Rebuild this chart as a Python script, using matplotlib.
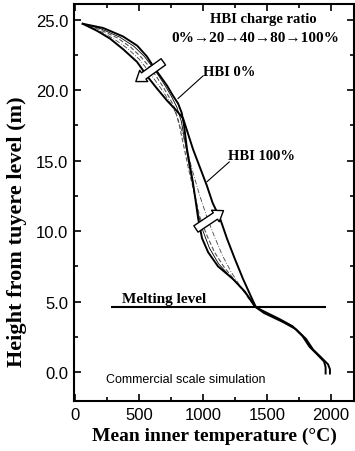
import matplotlib
matplotlib.use("Agg")
import matplotlib.pyplot as plt
from matplotlib.ticker import MultipleLocator, FormatStrFormatter

# mean inner temperature (C) vs height from tuyere level (m)
t_hbi0 = [60, 220, 375, 485, 560, 610, 665, 720, 765, 805, 833, 850, 875, 920, 940, 962, 992,
          1040, 1117, 1234, 1328, 1405, 1455, 1600, 1700, 1778, 1832, 1893, 1946, 1958, 1958]
h_hbi0 = [24.7, 24.4, 23.8, 23.15, 22.4, 21.7, 21.0, 20.3, 19.6, 19.05, 18.4, 17.6, 15.8, 13.5,
          12.3, 10.9, 9.5, 8.5, 7.5, 6.6, 5.7, 4.65, 4.4, 3.75, 3.25, 2.55, 1.8, 1.25, 0.75,
          0.35, -0.1]

t_hbi100 = [60, 172, 273, 375, 484, 562, 641, 719, 797, 844, 922, 1031, 1075, 1133, 1188,
            1250, 1313, 1383, 1414, 1475, 1625, 1725, 1805, 1860, 1922, 1977, 1992, 1992]
h_hbi100 = [24.7, 24.2, 23.65, 22.9, 22.0, 21.0, 20.1, 19.25, 18.5, 18.0, 15.8, 13.2, 12.0,
            10.9, 9.45, 8.0, 6.6, 5.2, 4.6, 4.2, 3.55, 3.05, 2.35, 1.6, 1.05, 0.55, 0.2, -0.1]

# intermediate charge ratios (20, 40, 80 %), above the melting level
t_hbi20 = [60, 200, 350, 460, 540, 600, 655, 705, 750, 795, 830, 860, 895, 930, 960, 1000,
           1050, 1120, 1210, 1300, 1370, 1410]
h_hbi20 = [24.7, 24.35, 23.75, 23.1, 22.4, 21.7, 21.0, 20.3, 19.6, 18.8, 17.8, 16.3, 14.5,
           12.8, 11.3, 10.0, 8.8, 7.7, 6.8, 6.0, 5.2, 4.6]

t_hbi40 = [60, 190, 330, 440, 520, 585, 640, 690, 735, 780, 815, 850, 890, 935, 975, 1030,
           1090, 1160, 1240, 1320, 1380, 1410]
h_hbi40 = [24.7, 24.3, 23.7, 23.0, 22.3, 21.6, 20.9, 20.2, 19.5, 18.7, 17.5, 16.0, 14.3,
           12.6, 11.0, 9.7, 8.5, 7.5, 6.6, 5.7, 5.0, 4.6]

t_hbi80 = [60, 180, 300, 410, 500, 570, 625, 680, 730, 780, 825, 870, 920, 975, 1030, 1090,
           1150, 1220, 1290, 1350, 1395, 1412]
h_hbi80 = [24.7, 24.25, 23.65, 22.95, 22.2, 21.4, 20.7, 20.0, 19.3, 18.5, 17.4, 15.9, 14.2,
           12.5, 11.0, 9.6, 8.3, 7.1, 6.1, 5.3, 4.8, 4.6]

melting_h = 4.6
melting_t = [280, 1960]

serif = ["Liberation Serif", "DejaVu Serif"]
sans = ["Liberation Sans", "DejaVu Sans"]

fig = plt.figure(figsize=(3.55, 4.52), dpi=100)
ax = fig.add_axes([0.2085, 0.1106, 0.7887, 0.8783])

ax.plot(t_hbi20, h_hbi20, color="black", linewidth=0.6)
ax.plot(t_hbi40, h_hbi40, color="#555555", linewidth=0.8, linestyle=(0, (4, 2)))
ax.plot(t_hbi80, h_hbi80, color="#444444", linewidth=0.6, linestyle=(0, (6, 2, 1, 2)))
ax.plot(t_hbi0, h_hbi0, color="black", linewidth=1.4)
ax.plot(t_hbi100, h_hbi100, color="black", linewidth=1.4)

ax.hlines(melting_h, melting_t[0], melting_t[1], colors="black", linewidth=1.5)

# hollow arrows showing the shift with charge ratio
arrow = dict(arrowstyle="simple,head_length=0.7,head_width=1.0,tail_width=0.55",
             fc="white", ec="black", lw=1.0, shrinkA=0, shrinkB=0)
ax.annotate("", xy=(475, 20.6), xytext=(690, 22.0), arrowprops=arrow)
ax.annotate("", xy=(1160, 11.45), xytext=(945, 10.15), arrowprops=arrow)

# labels with leader lines
ax.plot([805, 1000], [19.4, 21.0], color="black", linewidth=0.8)
ax.plot([1031, 1205], [13.5, 14.9], color="black", linewidth=0.8)
ax.text(1000, 21.3, "HBI 0%", family=serif, fontweight="bold", fontsize=10.5, va="center")
ax.text(1195, 15.35, "HBI 100%", family=serif, fontweight="bold", fontsize=10.5, va="center")
ax.text(1469, 25.1, "HBI charge ratio", family=serif, fontweight="bold", fontsize=10.5,
        ha="center", va="center")
ax.text(1406, 23.7, "0%\u219220\u219240\u219280\u2192100%", family=serif, fontweight="bold",
        fontsize=11, ha="center", va="center")
ax.text(367, 4.75, "Melting level", family=serif, fontweight="bold", fontsize=11, va="bottom")
ax.text(242, -0.5, "Commercial scale simulation", family=sans, fontsize=9, va="center")

ax.set_xlim(-8, 2180)
ax.set_ylim(-2.05, 26.1)
ax.xaxis.set_major_locator(MultipleLocator(500))
ax.xaxis.set_minor_locator(MultipleLocator(250))
ax.yaxis.set_major_locator(MultipleLocator(5))
ax.yaxis.set_minor_locator(MultipleLocator(2.5))
ax.yaxis.set_major_formatter(FormatStrFormatter("%.1f"))
ax.tick_params(which="both", direction="in", top=True, right=True, width=1.2)
ax.tick_params(which="major", length=5, labelsize=12, pad=4)
ax.tick_params(which="minor", length=3)
for lbl in ax.get_xticklabels() + ax.get_yticklabels():
    lbl.set_family(sans)
for sp in ax.spines.values():
    sp.set_linewidth(1.5)

ax.set_xlabel("Mean inner temperature (\u00b0C)", family=serif, fontweight="bold", fontsize=14)
ax.set_ylabel("Height from tuyere level (m)", family=serif, fontweight="bold", fontsize=16)
ax.yaxis.set_label_coords(-0.168, 0.43)

fig.savefig("out.png", dpi=100)
